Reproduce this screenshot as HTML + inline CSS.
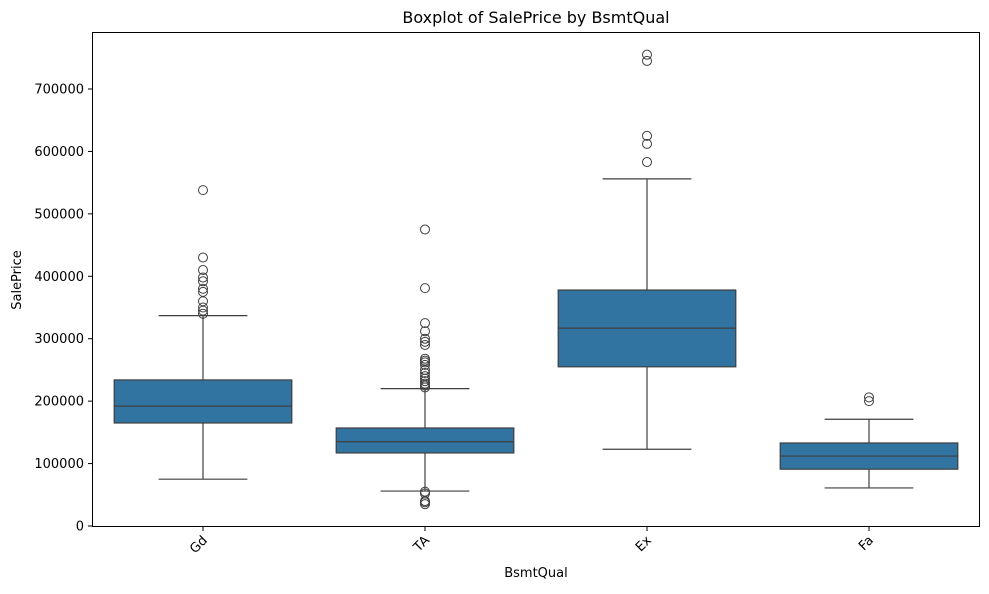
<!DOCTYPE html>
<html><head><meta charset="utf-8"><style>
body{margin:0;background:#fff;font-family:"DejaVu Sans",sans-serif}
</style></head><body>
<svg id="chart" width="989" height="590" xmlns="http://www.w3.org/2000/svg" font-family="DejaVu Sans, sans-serif">
<rect width="989" height="590" fill="#fff"/>
<text x="536" y="23" text-anchor="middle" font-size="16">Boxplot of SalePrice by BsmtQual</text>
<text x="536" y="577" text-anchor="middle" font-size="13">BsmtQual</text>
<text transform="translate(21,280) rotate(-90)" text-anchor="middle" font-size="13">SalePrice</text>
<g id="plot"></g>
<rect x="92.5" y="32.5" width="887" height="494" fill="none" stroke="#000" stroke-width="1"/>
</svg>
<script>
const categories=["Gd","TA","Ex","Fa"];
const q1=[165000,117000,255000,91000];
const medians=[192000,135000,317000,112000];
const q3=[234000,157000,378000,133000];
const whiskerLow=[75000,56000,123000,61000];
const whiskerHigh=[337000,220000,556000,171000];
const outliers=[
 [340000,345000,350000,360000,375000,380000,392000,398000,410000,430000,538000],
 [35000,38000,40000,52000,55000,222000,225000,228000,232000,236000,240000,245000,250000,258000,262000,265000,268000,290000,295000,300000,312000,325000,381000,475000],
 [583000,612000,625000,745000,755000],
 [200000,206000]
];
const yTicks=[0,100000,200000,300000,400000,500000,600000,700000];
const NS="http://www.w3.org/2000/svg";
const g=document.getElementById('plot');
const x0=92,x1=980;
const band=(x1-x0)/categories.length;
const xc=i=>x0+band*(i+0.5);
const y=v=>526-v*437/700000;
function el(t,a){const e=document.createElementNS(NS,t);for(const k in a)e.setAttribute(k,a[k]);g.appendChild(e);return e;}
yTicks.forEach(v=>{
 const t=el('line',{x1:x0-4,x2:x0,y1:y(v),y2:y(v),stroke:'#000'});
 
 
 const l=el('text',{x:x0-8,y:y(v)+4.5,'text-anchor':'end','font-size':'13'});
 l.textContent=v;
 
 
});
const bw=band*0.8;
categories.forEach((c,i)=>{
 const cx=xc(i);
 const t=el('line',{x1:cx,x2:cx,y1:527,y2:531,stroke:'#000'});
 
 
 const l=el('text',{'text-anchor':'end','font-size':'13',transform:`translate(${cx+5},${541}) rotate(-45)`});
 l.textContent=c;
 
 
 const w1=el('line',{x1:cx,x2:cx,y1:y(q1[i]),y2:y(whiskerLow[i]),stroke:'#3f3f3f','stroke-width':1.2});
 
 
 const w2=el('line',{x1:cx,x2:cx,y1:y(q3[i]),y2:y(whiskerHigh[i]),stroke:'#3f3f3f','stroke-width':1.2});
 
 
 [whiskerLow[i],whiskerHigh[i]].forEach(v=>{
  const cap=el('line',{x1:cx-bw/4,x2:cx+bw/4,y1:y(v),y2:y(v),stroke:'#3f3f3f','stroke-width':1.2});
  
  
 });
 const b=el('rect',{x:cx-bw/2,y:y(q3[i]),width:bw,height:y(q1[i])-y(q3[i]),fill:'#3274a1',stroke:'#3f3f3f','stroke-width':1.2});
 
 
 const m=el('line',{x1:cx-bw/2,x2:cx+bw/2,y1:y(medians[i]),y2:y(medians[i]),stroke:'#3f3f3f','stroke-width':1.2});
 
 
 outliers[i].forEach(v=>{
  const o=el('circle',{cx:cx,cy:y(v),r:4.5,fill:'none',stroke:'#3f3f3f','stroke-width':1});
  
  
 });
});
</script>
</body></html>
